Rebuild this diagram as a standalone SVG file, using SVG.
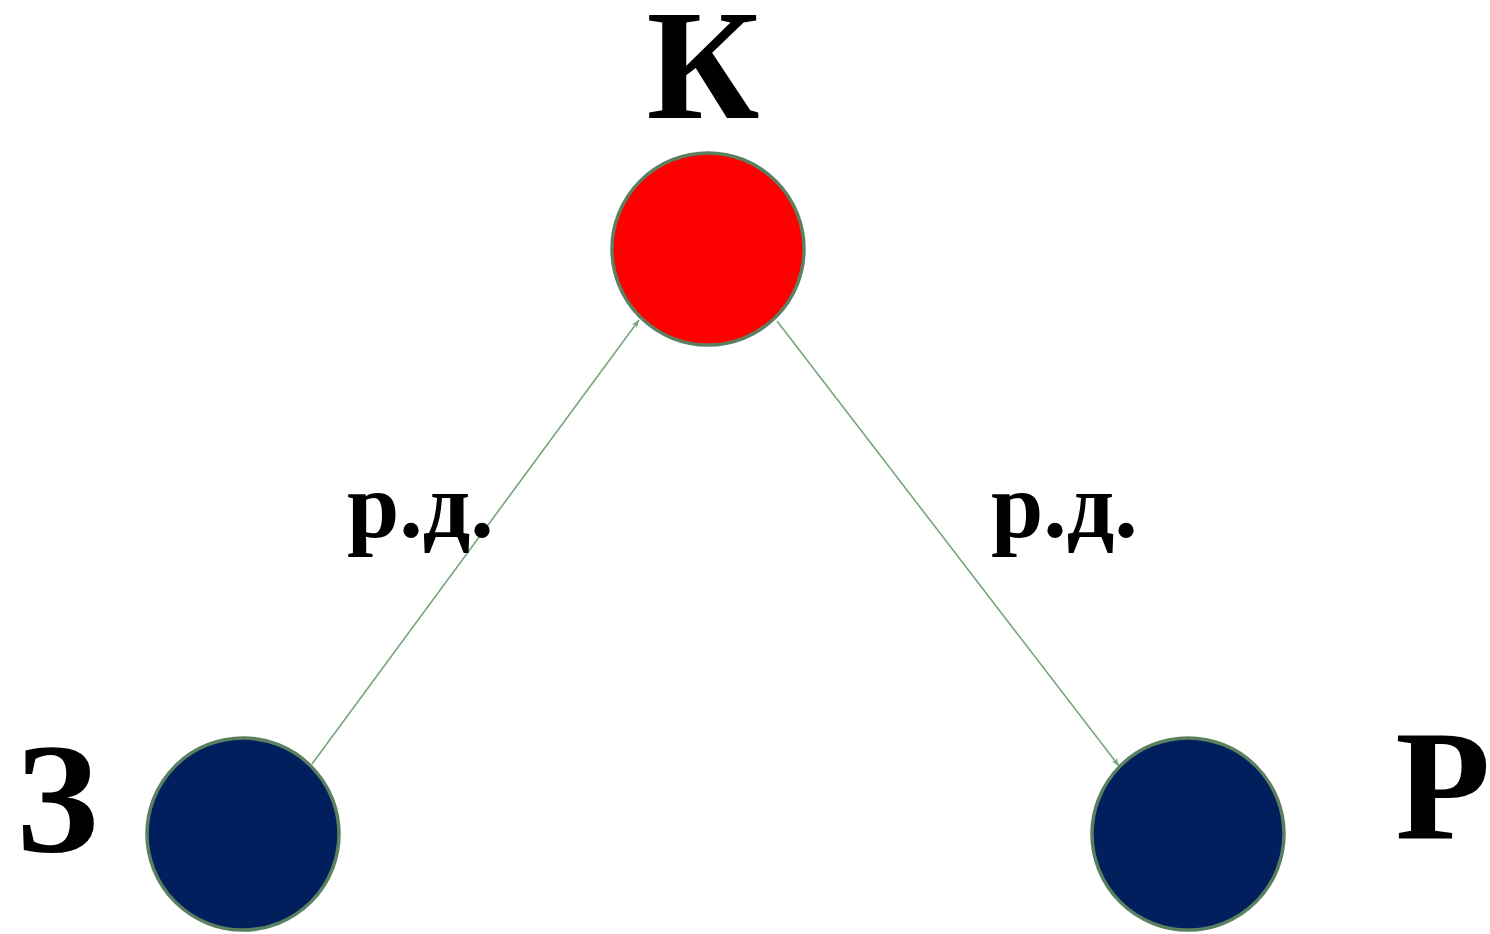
<svg xmlns="http://www.w3.org/2000/svg" width="1490" height="934" viewBox="0 0 1490 934">
<style>
.t{font-family:"Liberation Serif","Times New Roman",serif;font-weight:bold;fill:#000}
.big{font-size:156px}
.lbl{font-size:94px}
.n{stroke:#5a8060;stroke-width:3.5}
.e{stroke:#76a67a;stroke-width:1.6;fill:none}
</style>
<defs>
<marker id="ah" viewBox="0 0 10 10" refX="10" refY="5" markerWidth="8" markerHeight="8" markerUnits="userSpaceOnUse" orient="auto">
<path d="M0,1 L10,5 L0,9 L3,5 z" fill="#76a67a"/>
</marker>
</defs>
<rect width="1490" height="934" fill="#fff"/>
<g id="connectors">
<line class="e" x1="312" y1="764" x2="639" y2="320" marker-end="url(#ah)"/>
<line class="e" x1="777" y1="321" x2="1119" y2="766" marker-end="url(#ah)"/>
<text class="t lbl" x="347" y="537">р.д.</text>
<text class="t lbl" x="991" y="537">р.д.</text>
</g>
<g id="node-K">
<circle class="n" cx="708" cy="249" r="96" fill="#ff0000"/>
<text class="t big" x="703" y="118" text-anchor="middle">К</text>
</g>
<g id="node-Z">
<circle class="n" cx="243" cy="834" r="96" fill="#001f5c"/>
<text class="t big" x="57" y="851" text-anchor="middle">З</text>
</g>
<g id="node-R">
<circle class="n" cx="1188" cy="834" r="96" fill="#001f5c"/>
<text class="t big" x="1443" y="838" text-anchor="middle">Р</text>
</g>
</svg>
